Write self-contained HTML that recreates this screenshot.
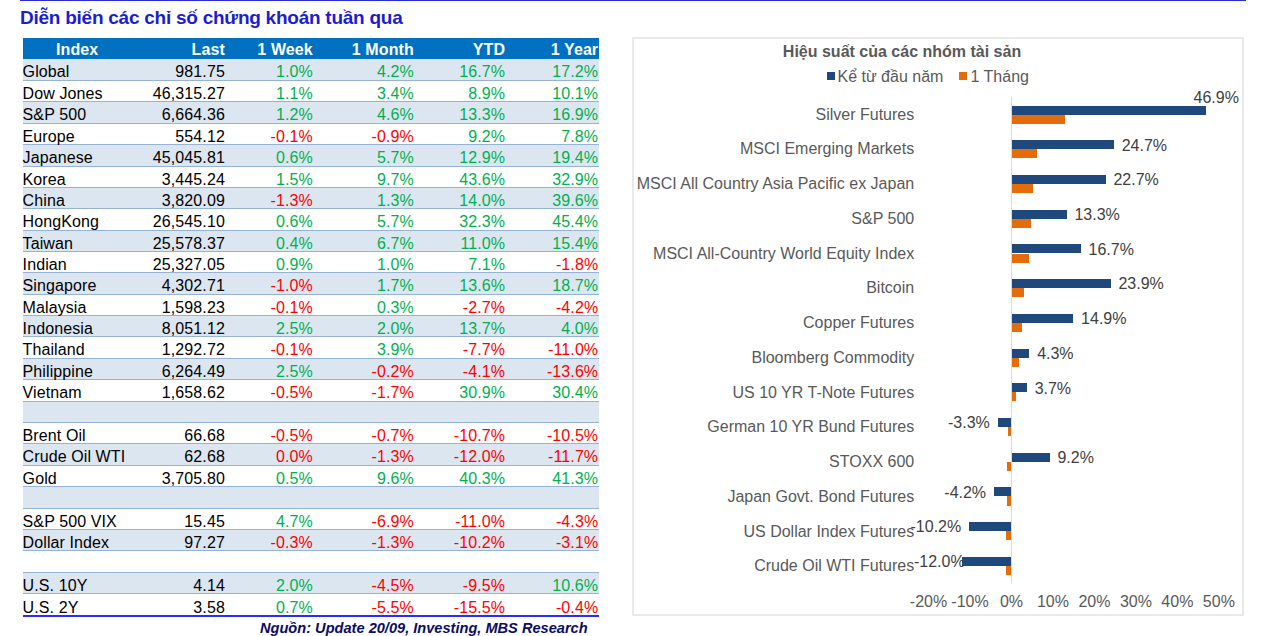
<!DOCTYPE html><html><head><meta charset="utf-8"><style>
*{margin:0;padding:0;box-sizing:border-box}
html,body{width:1263px;height:636px;overflow:hidden;background:#fff;font-family:"Liberation Sans",sans-serif}
.a{position:absolute;white-space:nowrap;line-height:1}
.r{text-align:right}
.t{font-size:16px;color:#000;letter-spacing:0.1px}
.g{color:#00b050}.d{color:#ff0000}
.cl{font-size:16px;color:#595959}
.dl{font-size:16px;color:#404040}
</style></head><body>
<div class="a" style="left:20px;top:0;width:1226px;height:1px;background:#2b2bd4"></div>
<div class="a" style="left:20px;top:8.00px;font-size:19px;font-weight:bold;letter-spacing:-0.25px;color:#1c1cd2">Diễn biến các chỉ số chứng khoán tuần qua</div>
<div class="a" style="left:23px;top:38px;width:576px;height:21px;background:#0070c0"></div>
<div class="a t" style="left:77.20px;top:41.52px;width:0;text-align:center;font-weight:bold;color:#fff"><span style="display:inline-block;transform:translateX(-50%)">Index</span></div>
<div class="a t" style="right:1038.10px;top:41.52px;font-weight:bold;color:#fff">Last</div>
<div class="a t" style="right:950.20px;top:41.52px;font-weight:bold;color:#fff">1 Week</div>
<div class="a t" style="right:849.20px;top:41.52px;font-weight:bold;color:#fff">1 Month</div>
<div class="a t" style="right:757.90px;top:41.52px;font-weight:bold;color:#fff">YTD</div>
<div class="a t" style="right:664.80px;top:41.52px;font-weight:bold;color:#fff">1 Year</div>
<div class="a" style="left:23px;top:59px;width:576px;height:22px;background:#dce6f1"></div>
<div class="a" style="left:23px;top:80px;width:576px;height:1px;background:#95b3d7"></div>
<div class="a t" style="left:22.60px;top:64.40px">Global</div>
<div class="a t" style="right:1038.10px;top:64.40px">981.75</div>
<div class="a t g" style="right:950.20px;top:64.40px">1.0%</div>
<div class="a t g" style="right:849.20px;top:64.40px">4.2%</div>
<div class="a t g" style="right:757.90px;top:64.40px">16.7%</div>
<div class="a t g" style="right:664.80px;top:64.40px">17.2%</div>
<div class="a" style="left:23px;top:101px;width:576px;height:1px;background:#95b3d7"></div>
<div class="a t" style="left:22.60px;top:86.40px">Dow Jones</div>
<div class="a t" style="right:1038.10px;top:86.40px">46,315.27</div>
<div class="a t g" style="right:950.20px;top:86.40px">1.1%</div>
<div class="a t g" style="right:849.20px;top:86.40px">3.4%</div>
<div class="a t g" style="right:757.90px;top:86.40px">8.9%</div>
<div class="a t g" style="right:664.80px;top:86.40px">10.1%</div>
<div class="a" style="left:23px;top:102px;width:576px;height:22px;background:#dce6f1"></div>
<div class="a" style="left:23px;top:123px;width:576px;height:1px;background:#95b3d7"></div>
<div class="a t" style="left:22.60px;top:107.40px">S&P 500</div>
<div class="a t" style="right:1038.10px;top:107.40px">6,664.36</div>
<div class="a t g" style="right:950.20px;top:107.40px">1.2%</div>
<div class="a t g" style="right:849.20px;top:107.40px">4.6%</div>
<div class="a t g" style="right:757.90px;top:107.40px">13.3%</div>
<div class="a t g" style="right:664.80px;top:107.40px">16.9%</div>
<div class="a" style="left:23px;top:144px;width:576px;height:1px;background:#95b3d7"></div>
<div class="a t" style="left:22.60px;top:129.40px">Europe</div>
<div class="a t" style="right:1038.10px;top:129.40px">554.12</div>
<div class="a t d" style="right:950.20px;top:129.40px">-0.1%</div>
<div class="a t d" style="right:849.20px;top:129.40px">-0.9%</div>
<div class="a t g" style="right:757.90px;top:129.40px">9.2%</div>
<div class="a t g" style="right:664.80px;top:129.40px">7.8%</div>
<div class="a" style="left:23px;top:145px;width:576px;height:22px;background:#dce6f1"></div>
<div class="a" style="left:23px;top:166px;width:576px;height:1px;background:#95b3d7"></div>
<div class="a t" style="left:22.60px;top:150.40px">Japanese</div>
<div class="a t" style="right:1038.10px;top:150.40px">45,045.81</div>
<div class="a t g" style="right:950.20px;top:150.40px">0.6%</div>
<div class="a t g" style="right:849.20px;top:150.40px">5.7%</div>
<div class="a t g" style="right:757.90px;top:150.40px">12.9%</div>
<div class="a t g" style="right:664.80px;top:150.40px">19.4%</div>
<div class="a" style="left:23px;top:187px;width:576px;height:1px;background:#95b3d7"></div>
<div class="a t" style="left:22.60px;top:172.40px">Korea</div>
<div class="a t" style="right:1038.10px;top:172.40px">3,445.24</div>
<div class="a t g" style="right:950.20px;top:172.40px">1.5%</div>
<div class="a t g" style="right:849.20px;top:172.40px">9.7%</div>
<div class="a t g" style="right:757.90px;top:172.40px">43.6%</div>
<div class="a t g" style="right:664.80px;top:172.40px">32.9%</div>
<div class="a" style="left:23px;top:188px;width:576px;height:21px;background:#dce6f1"></div>
<div class="a" style="left:23px;top:208px;width:576px;height:1px;background:#95b3d7"></div>
<div class="a t" style="left:22.60px;top:193.40px">China</div>
<div class="a t" style="right:1038.10px;top:193.40px">3,820.09</div>
<div class="a t d" style="right:950.20px;top:193.40px">-1.3%</div>
<div class="a t g" style="right:849.20px;top:193.40px">1.3%</div>
<div class="a t g" style="right:757.90px;top:193.40px">14.0%</div>
<div class="a t g" style="right:664.80px;top:193.40px">39.6%</div>
<div class="a" style="left:23px;top:230px;width:576px;height:1px;background:#95b3d7"></div>
<div class="a t" style="left:22.60px;top:214.40px">HongKong</div>
<div class="a t" style="right:1038.10px;top:214.40px">26,545.10</div>
<div class="a t g" style="right:950.20px;top:214.40px">0.6%</div>
<div class="a t g" style="right:849.20px;top:214.40px">5.7%</div>
<div class="a t g" style="right:757.90px;top:214.40px">32.3%</div>
<div class="a t g" style="right:664.80px;top:214.40px">45.4%</div>
<div class="a" style="left:23px;top:231px;width:576px;height:21px;background:#dce6f1"></div>
<div class="a" style="left:23px;top:251px;width:576px;height:1px;background:#95b3d7"></div>
<div class="a t" style="left:22.60px;top:236.40px">Taiwan</div>
<div class="a t" style="right:1038.10px;top:236.40px">25,578.37</div>
<div class="a t g" style="right:950.20px;top:236.40px">0.4%</div>
<div class="a t g" style="right:849.20px;top:236.40px">6.7%</div>
<div class="a t g" style="right:757.90px;top:236.40px">11.0%</div>
<div class="a t g" style="right:664.80px;top:236.40px">15.4%</div>
<div class="a" style="left:23px;top:272px;width:576px;height:1px;background:#95b3d7"></div>
<div class="a t" style="left:22.60px;top:257.40px">Indian</div>
<div class="a t" style="right:1038.10px;top:257.40px">25,327.05</div>
<div class="a t g" style="right:950.20px;top:257.40px">0.9%</div>
<div class="a t g" style="right:849.20px;top:257.40px">1.0%</div>
<div class="a t g" style="right:757.90px;top:257.40px">7.1%</div>
<div class="a t d" style="right:664.80px;top:257.40px">-1.8%</div>
<div class="a" style="left:23px;top:273px;width:576px;height:22px;background:#dce6f1"></div>
<div class="a" style="left:23px;top:294px;width:576px;height:1px;background:#95b3d7"></div>
<div class="a t" style="left:22.60px;top:278.40px">Singapore</div>
<div class="a t" style="right:1038.10px;top:278.40px">4,302.71</div>
<div class="a t d" style="right:950.20px;top:278.40px">-1.0%</div>
<div class="a t g" style="right:849.20px;top:278.40px">1.7%</div>
<div class="a t g" style="right:757.90px;top:278.40px">13.6%</div>
<div class="a t g" style="right:664.80px;top:278.40px">18.7%</div>
<div class="a" style="left:23px;top:315px;width:576px;height:1px;background:#95b3d7"></div>
<div class="a t" style="left:22.60px;top:300.40px">Malaysia</div>
<div class="a t" style="right:1038.10px;top:300.40px">1,598.23</div>
<div class="a t d" style="right:950.20px;top:300.40px">-0.1%</div>
<div class="a t g" style="right:849.20px;top:300.40px">0.3%</div>
<div class="a t d" style="right:757.90px;top:300.40px">-2.7%</div>
<div class="a t d" style="right:664.80px;top:300.40px">-4.2%</div>
<div class="a" style="left:23px;top:316px;width:576px;height:21px;background:#dce6f1"></div>
<div class="a" style="left:23px;top:336px;width:576px;height:1px;background:#95b3d7"></div>
<div class="a t" style="left:22.60px;top:321.40px">Indonesia</div>
<div class="a t" style="right:1038.10px;top:321.40px">8,051.12</div>
<div class="a t g" style="right:950.20px;top:321.40px">2.5%</div>
<div class="a t g" style="right:849.20px;top:321.40px">2.0%</div>
<div class="a t g" style="right:757.90px;top:321.40px">13.7%</div>
<div class="a t g" style="right:664.80px;top:321.40px">4.0%</div>
<div class="a" style="left:23px;top:358px;width:576px;height:1px;background:#95b3d7"></div>
<div class="a t" style="left:22.60px;top:342.40px">Thailand</div>
<div class="a t" style="right:1038.10px;top:342.40px">1,292.72</div>
<div class="a t d" style="right:950.20px;top:342.40px">-0.1%</div>
<div class="a t g" style="right:849.20px;top:342.40px">3.9%</div>
<div class="a t d" style="right:757.90px;top:342.40px">-7.7%</div>
<div class="a t d" style="right:664.80px;top:342.40px">-11.0%</div>
<div class="a" style="left:23px;top:359px;width:576px;height:21px;background:#dce6f1"></div>
<div class="a" style="left:23px;top:379px;width:576px;height:1px;background:#95b3d7"></div>
<div class="a t" style="left:22.60px;top:364.40px">Philippine</div>
<div class="a t" style="right:1038.10px;top:364.40px">6,264.49</div>
<div class="a t g" style="right:950.20px;top:364.40px">2.5%</div>
<div class="a t d" style="right:849.20px;top:364.40px">-0.2%</div>
<div class="a t d" style="right:757.90px;top:364.40px">-4.1%</div>
<div class="a t d" style="right:664.80px;top:364.40px">-13.6%</div>
<div class="a" style="left:23px;top:401px;width:576px;height:1px;background:#95b3d7"></div>
<div class="a t" style="left:22.60px;top:385.40px">Vietnam</div>
<div class="a t" style="right:1038.10px;top:385.40px">1,658.62</div>
<div class="a t d" style="right:950.20px;top:385.40px">-0.5%</div>
<div class="a t d" style="right:849.20px;top:385.40px">-1.7%</div>
<div class="a t g" style="right:757.90px;top:385.40px">30.9%</div>
<div class="a t g" style="right:664.80px;top:385.40px">30.4%</div>
<div class="a" style="left:23px;top:402px;width:576px;height:21px;background:#dce6f1"></div>
<div class="a" style="left:23px;top:422px;width:576px;height:1px;background:#95b3d7"></div>
<div class="a" style="left:23px;top:443px;width:576px;height:1px;background:#95b3d7"></div>
<div class="a t" style="left:22.60px;top:428.40px">Brent Oil</div>
<div class="a t" style="right:1038.10px;top:428.40px">66.68</div>
<div class="a t d" style="right:950.20px;top:428.40px">-0.5%</div>
<div class="a t d" style="right:849.20px;top:428.40px">-0.7%</div>
<div class="a t d" style="right:757.90px;top:428.40px">-10.7%</div>
<div class="a t d" style="right:664.80px;top:428.40px">-10.5%</div>
<div class="a" style="left:23px;top:444px;width:576px;height:22px;background:#dce6f1"></div>
<div class="a" style="left:23px;top:465px;width:576px;height:1px;background:#95b3d7"></div>
<div class="a t" style="left:22.60px;top:449.40px">Crude Oil WTI</div>
<div class="a t" style="right:1038.10px;top:449.40px">62.68</div>
<div class="a t d" style="right:950.20px;top:449.40px">0.0%</div>
<div class="a t d" style="right:849.20px;top:449.40px">-1.3%</div>
<div class="a t d" style="right:757.90px;top:449.40px">-12.0%</div>
<div class="a t d" style="right:664.80px;top:449.40px">-11.7%</div>
<div class="a" style="left:23px;top:486px;width:576px;height:1px;background:#95b3d7"></div>
<div class="a t" style="left:22.60px;top:471.40px">Gold</div>
<div class="a t" style="right:1038.10px;top:471.40px">3,705.80</div>
<div class="a t g" style="right:950.20px;top:471.40px">0.5%</div>
<div class="a t g" style="right:849.20px;top:471.40px">9.6%</div>
<div class="a t g" style="right:757.90px;top:471.40px">40.3%</div>
<div class="a t g" style="right:664.80px;top:471.40px">41.3%</div>
<div class="a" style="left:23px;top:487px;width:576px;height:22px;background:#dce6f1"></div>
<div class="a" style="left:23px;top:508px;width:576px;height:1px;background:#95b3d7"></div>
<div class="a" style="left:23px;top:529px;width:576px;height:1px;background:#95b3d7"></div>
<div class="a t" style="left:22.60px;top:514.40px">S&P 500 VIX</div>
<div class="a t" style="right:1038.10px;top:514.40px">15.45</div>
<div class="a t g" style="right:950.20px;top:514.40px">4.7%</div>
<div class="a t d" style="right:849.20px;top:514.40px">-6.9%</div>
<div class="a t d" style="right:757.90px;top:514.40px">-11.0%</div>
<div class="a t d" style="right:664.80px;top:514.40px">-4.3%</div>
<div class="a" style="left:23px;top:530px;width:576px;height:21px;background:#dce6f1"></div>
<div class="a" style="left:23px;top:550px;width:576px;height:1px;background:#95b3d7"></div>
<div class="a t" style="left:22.60px;top:535.40px">Dollar Index</div>
<div class="a t" style="right:1038.10px;top:535.40px">97.27</div>
<div class="a t d" style="right:950.20px;top:535.40px">-0.3%</div>
<div class="a t d" style="right:849.20px;top:535.40px">-1.3%</div>
<div class="a t d" style="right:757.90px;top:535.40px">-10.2%</div>
<div class="a t d" style="right:664.80px;top:535.40px">-3.1%</div>
<div class="a" style="left:23px;top:572px;width:576px;height:1px;background:#95b3d7"></div>
<div class="a" style="left:23px;top:573px;width:576px;height:21px;background:#dce6f1"></div>
<div class="a" style="left:23px;top:593px;width:576px;height:1px;background:#95b3d7"></div>
<div class="a t" style="left:22.60px;top:578.40px">U.S. 10Y</div>
<div class="a t" style="right:1038.10px;top:578.40px">4.14</div>
<div class="a t g" style="right:950.20px;top:578.40px">2.0%</div>
<div class="a t d" style="right:849.20px;top:578.40px">-4.5%</div>
<div class="a t d" style="right:757.90px;top:578.40px">-9.5%</div>
<div class="a t g" style="right:664.80px;top:578.40px">10.6%</div>
<div class="a t" style="left:22.60px;top:600.40px">U.S. 2Y</div>
<div class="a t" style="right:1038.10px;top:600.40px">3.58</div>
<div class="a t g" style="right:950.20px;top:600.40px">0.7%</div>
<div class="a t d" style="right:849.20px;top:600.40px">-5.5%</div>
<div class="a t d" style="right:757.90px;top:600.40px">-15.5%</div>
<div class="a t d" style="right:664.80px;top:600.40px">-0.4%</div>
<div class="a" style="left:23px;top:615px;width:576px;height:1.5px;background:#2b2bff"></div>
<div class="a a" style="left:260.00px;top:621.09px;font-size:14.6px;font-weight:bold;font-style:italic;color:#0c0c60">Nguồn: Update 20/09, Investing, MBS Research</div>
<div class="a" style="left:632px;top:37px;width:612px;height:579px;border:2px solid #e9e9e9"></div>
<div class="a a" style="left:902.00px;top:44.32px;width:0;text-align:center;font-size:16px;font-weight:bold;color:#595959"><span style="display:inline-block;transform:translateX(-50%)">Hiệu suất của các nhóm tài sản</span></div>
<div class="a" style="left:827px;top:72px;width:8px;height:8px;background:#1f497d"></div>
<div class="a cl" style="left:837.50px;top:68.72px">Kể từ đầu năm</div>
<div class="a" style="left:959px;top:72px;width:8px;height:8px;background:#e46c0a"></div>
<div class="a cl" style="left:970.50px;top:68.72px">1 Tháng</div>
<div class="a" style="left:1011px;top:97px;width:1px;height:486px;background:#d9d9d9"></div>
<div class="a" style="left:1011.50px;top:105.56px;width:194.49px;height:9.10px;background:#1f497d"></div>
<div class="a" style="left:1011.50px;top:114.66px;width:53.08px;height:9.10px;background:#e46c0a"></div>
<div class="a cl" style="right:348.80px;top:106.58px">Silver Futures</div>
<div class="a dl" style="right:24.10px;top:89.52px">46.9%</div>
<div class="a" style="left:1011.50px;top:140.27px;width:102.43px;height:9.10px;background:#1f497d"></div>
<div class="a" style="left:1011.50px;top:149.37px;width:25.71px;height:9.10px;background:#e46c0a"></div>
<div class="a cl" style="right:348.80px;top:141.33px">MSCI Emerging Markets</div>
<div class="a dl" style="left:1121.73px;top:137.64px">24.7%</div>
<div class="a" style="left:1011.50px;top:174.97px;width:94.14px;height:9.10px;background:#1f497d"></div>
<div class="a" style="left:1011.50px;top:184.07px;width:21.56px;height:9.10px;background:#e46c0a"></div>
<div class="a cl" style="right:348.80px;top:176.08px">MSCI All Country Asia Pacific ex Japan</div>
<div class="a dl" style="left:1113.44px;top:172.34px">22.7%</div>
<div class="a" style="left:1011.50px;top:209.69px;width:55.16px;height:9.10px;background:#1f497d"></div>
<div class="a" style="left:1011.50px;top:218.78px;width:19.08px;height:9.10px;background:#e46c0a"></div>
<div class="a cl" style="right:348.80px;top:210.83px">S&P 500</div>
<div class="a dl" style="left:1074.46px;top:207.06px">13.3%</div>
<div class="a" style="left:1011.50px;top:244.40px;width:69.25px;height:9.10px;background:#1f497d"></div>
<div class="a" style="left:1011.50px;top:253.50px;width:17.42px;height:9.10px;background:#e46c0a"></div>
<div class="a cl" style="right:348.80px;top:245.58px">MSCI All-Country World Equity Index</div>
<div class="a dl" style="left:1088.55px;top:241.77px">16.7%</div>
<div class="a" style="left:1011.50px;top:279.10px;width:99.11px;height:9.10px;background:#1f497d"></div>
<div class="a" style="left:1011.50px;top:288.20px;width:12.44px;height:9.10px;background:#e46c0a"></div>
<div class="a cl" style="right:348.80px;top:280.32px">Bitcoin</div>
<div class="a dl" style="left:1118.41px;top:276.47px">23.9%</div>
<div class="a" style="left:1011.50px;top:313.81px;width:61.79px;height:9.10px;background:#1f497d"></div>
<div class="a" style="left:1011.50px;top:322.92px;width:10.37px;height:9.10px;background:#e46c0a"></div>
<div class="a cl" style="right:348.80px;top:315.07px">Copper Futures</div>
<div class="a dl" style="left:1081.09px;top:311.19px">14.9%</div>
<div class="a" style="left:1011.50px;top:348.52px;width:17.83px;height:9.10px;background:#1f497d"></div>
<div class="a" style="left:1011.50px;top:357.62px;width:7.88px;height:9.10px;background:#e46c0a"></div>
<div class="a cl" style="right:348.80px;top:349.82px">Bloomberg Commodity</div>
<div class="a dl" style="left:1037.13px;top:345.89px">4.3%</div>
<div class="a" style="left:1011.50px;top:383.24px;width:15.34px;height:9.10px;background:#1f497d"></div>
<div class="a" style="left:1011.50px;top:392.34px;width:4.56px;height:9.10px;background:#e46c0a"></div>
<div class="a cl" style="right:348.80px;top:384.57px">US 10 YR T-Note Futures</div>
<div class="a dl" style="left:1034.64px;top:380.61px">3.7%</div>
<div class="a" style="left:997.81px;top:417.94px;width:13.69px;height:9.10px;background:#1f497d"></div>
<div class="a" style="left:1008.18px;top:427.05px;width:3.32px;height:9.10px;background:#e46c0a"></div>
<div class="a cl" style="right:348.80px;top:419.32px">German 10 YR Bund Futures</div>
<div class="a dl" style="right:273.19px;top:415.31px">-3.3%</div>
<div class="a" style="left:1011.50px;top:452.65px;width:38.15px;height:9.10px;background:#1f497d"></div>
<div class="a" style="left:1007.35px;top:461.75px;width:4.15px;height:9.10px;background:#e46c0a"></div>
<div class="a cl" style="right:348.80px;top:454.07px">STOXX 600</div>
<div class="a dl" style="left:1057.45px;top:450.02px">9.2%</div>
<div class="a" style="left:994.08px;top:487.37px;width:17.42px;height:9.10px;background:#1f497d"></div>
<div class="a" style="left:1007.35px;top:496.47px;width:4.15px;height:9.10px;background:#e46c0a"></div>
<div class="a cl" style="right:348.80px;top:488.82px">Japan Govt. Bond Futures</div>
<div class="a dl" style="right:276.92px;top:484.74px">-4.2%</div>
<div class="a" style="left:969.20px;top:522.07px;width:42.30px;height:9.10px;background:#1f497d"></div>
<div class="a" style="left:1006.11px;top:531.17px;width:5.39px;height:9.10px;background:#e46c0a"></div>
<div class="a cl" style="right:348.80px;top:523.57px">US Dollar Index Futures</div>
<div class="a dl" style="right:301.80px;top:519.44px">-10.2%</div>
<div class="a" style="left:961.74px;top:556.78px;width:49.76px;height:9.10px;background:#1f497d"></div>
<div class="a" style="left:1006.11px;top:565.88px;width:5.39px;height:9.10px;background:#e46c0a"></div>
<div class="a cl" style="right:348.80px;top:558.32px">Crude Oil WTI Futures</div>
<div class="a dl" style="right:298.40px;top:554.15px">-12.0%</div>
<div class="a cl" style="left:928.56px;top:594.42px;width:0;text-align:center"><span style="display:inline-block;transform:translateX(-50%)">-20%</span></div>
<div class="a cl" style="left:970.03px;top:594.42px;width:0;text-align:center"><span style="display:inline-block;transform:translateX(-50%)">-10%</span></div>
<div class="a cl" style="left:1011.50px;top:594.42px;width:0;text-align:center"><span style="display:inline-block;transform:translateX(-50%)">0%</span></div>
<div class="a cl" style="left:1052.97px;top:594.42px;width:0;text-align:center"><span style="display:inline-block;transform:translateX(-50%)">10%</span></div>
<div class="a cl" style="left:1094.44px;top:594.42px;width:0;text-align:center"><span style="display:inline-block;transform:translateX(-50%)">20%</span></div>
<div class="a cl" style="left:1135.91px;top:594.42px;width:0;text-align:center"><span style="display:inline-block;transform:translateX(-50%)">30%</span></div>
<div class="a cl" style="left:1177.38px;top:594.42px;width:0;text-align:center"><span style="display:inline-block;transform:translateX(-50%)">40%</span></div>
<div class="a cl" style="left:1218.85px;top:594.42px;width:0;text-align:center"><span style="display:inline-block;transform:translateX(-50%)">50%</span></div>
</body></html>
